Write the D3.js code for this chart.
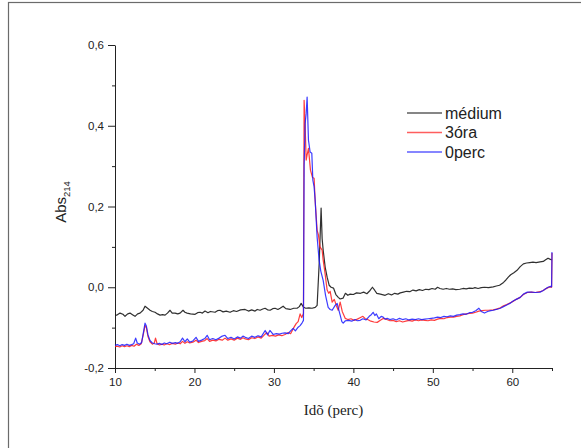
<!DOCTYPE html>
<html>
<head>
<meta charset="utf-8">
<script src="https://cdn.jsdelivr.net/npm/d3@7"></script>
<style>
  html, body { margin: 0; padding: 0; background: #fff; }
  svg { display: block; }
  .tick text { font-family: "Liberation Sans", Arial, sans-serif; fill: #222; }
</style>
</head>
<body>
<svg id="chart" width="581" height="448"></svg>
<script>
// Elution profiles: absorbance at 214 nm against elution time (min)
const seriesNames = ["médium", "3óra", "0perc"];
const seriesColors = ["#1a1a1a", "#ff1a1a", "#1a1aff"];

const xTicks = [10, 20, 30, 40, 50, 60];
const xMinorTicks = [15, 25, 35, 45, 55, 65];
const yTicks = [-0.2, 0, 0.2, 0.4, 0.6];
const yMinorTicks = [-0.1, 0.1, 0.3, 0.5];

const medium = [
  [10.0,-0.069],[10.25,-0.069],[10.63,-0.064],[11.0,-0.067],[11.26,-0.072],[11.6,-0.066],[11.89,-0.064],
  [12.2,-0.068],[12.52,-0.072],[12.85,-0.066],[13.15,-0.064],[13.53,-0.057],[13.78,-0.047],[14.1,-0.052],
  [14.41,-0.057],[14.7,-0.060],[15.04,-0.062],[15.35,-0.066],[15.67,-0.069],[16.0,-0.068],[16.3,-0.069],
  [16.6,-0.064],[16.93,-0.057],[17.2,-0.064],[17.56,-0.064],[17.9,-0.066],[18.19,-0.064],[18.56,-0.057],
  [18.8,-0.062],[19.07,-0.064],[19.5,-0.066],[20.08,-0.067],[20.4,-0.063],[20.71,-0.062],[21.0,-0.064],
  [21.33,-0.059],[21.7,-0.063],[22.0,-0.060],[22.59,-0.062],[22.9,-0.058],[23.22,-0.057],[23.6,-0.061],
  [24.0,-0.059],[24.48,-0.062],[24.9,-0.058],[25.3,-0.060],[25.8,-0.056],[26.37,-0.055],[26.8,-0.059],
  [27.2,-0.056],[27.63,-0.059],[27.9,-0.055],[28.26,-0.057],[28.6,-0.054],[28.89,-0.052],[29.2,-0.056],
  [29.52,-0.057],[29.85,-0.053],[30.15,-0.052],[30.5,-0.055],[30.78,-0.052],[31.16,-0.047],[31.5,-0.053],
  [32.04,-0.055],[32.5,-0.052],[32.92,-0.052],[33.2,-0.048],[33.43,-0.040],[33.7,-0.049],[34.0,-0.052],
  [34.4,-0.051],[34.8,-0.052],[35.2,-0.050],[35.44,-0.045],[35.7,0.060],[35.94,0.196],[36.07,0.120],
  [36.2,0.092],[36.45,0.050],[36.7,0.025],[36.95,0.005],[37.2,0.000],[37.5,-0.002],[37.8,-0.018],
  [38.1,-0.025],[38.34,-0.029],[38.7,-0.027],[39.0,-0.015],[39.3,-0.020],[39.6,-0.017],[40.0,-0.018],
  [40.4,-0.014],[40.9,-0.015],[41.3,-0.012],[41.7,-0.016],[42.1,-0.008],[42.4,0.000],[42.7,-0.008],
  [42.95,-0.015],[43.4,-0.017],[44.0,-0.020],[44.4,-0.016],[44.8,-0.019],[45.2,-0.015],[45.6,-0.017],
  [45.9,-0.014],[46.3,-0.012],[46.7,-0.010],[47.1,-0.011],[47.5,-0.007],[47.9,-0.009],[48.3,-0.006],
  [48.7,-0.008],[49.1,-0.005],[49.5,-0.006],[49.9,-0.003],[50.3,-0.005],[50.6,0.000],[50.9,-0.003],
  [51.3,-0.005],[51.7,-0.003],[52.1,-0.005],[52.5,-0.004],[52.9,-0.006],[53.4,-0.005],[53.8,-0.003],
  [54.2,-0.004],[54.6,-0.002],[55.0,-0.003],[55.3,-0.001],[55.7,-0.003],[56.1,-0.001],[56.5,0.000],
  [57.0,-0.001],[57.6,0.001],[58.0,0.003],[58.4,0.005],[58.9,0.012],[59.2,0.018],[59.5,0.025],
  [59.8,0.031],[60.2,0.036],[60.6,0.042],[61.0,0.051],[61.4,0.058],[61.8,0.060],[62.2,0.061],
  [62.6,0.062],[63.0,0.061],[63.5,0.063],[63.9,0.064],[64.2,0.068],[64.5,0.072],[64.8,0.069],[65.0,0.068]
];

const hours3 = [
  [10.0,-0.147],[10.3,-0.146],[10.6,-0.148],[10.9,-0.145],[11.2,-0.147],[11.5,-0.145],[11.8,-0.147],
  [12.1,-0.144],[12.4,-0.146],[12.7,-0.141],[13.0,-0.144],[13.3,-0.140],[13.55,-0.118],[13.78,-0.095],
  [13.95,-0.100],[14.15,-0.122],[14.4,-0.135],[14.7,-0.141],[14.95,-0.138],[15.1,-0.126],[15.3,-0.140],
  [15.6,-0.143],[15.9,-0.141],[16.2,-0.143],[16.5,-0.140],[16.9,-0.142],[17.2,-0.139],[17.6,-0.141],
  [17.9,-0.138],[18.2,-0.140],[18.5,-0.134],[18.8,-0.139],[19.1,-0.135],[19.4,-0.138],[19.8,-0.136],
  [20.2,-0.131],[20.5,-0.137],[20.9,-0.134],[21.3,-0.132],[21.6,-0.127],[21.9,-0.134],[22.3,-0.131],
  [22.7,-0.133],[23.1,-0.129],[23.5,-0.131],[23.85,-0.126],[24.2,-0.131],[24.6,-0.128],[25.0,-0.131],
  [25.4,-0.126],[25.8,-0.129],[26.1,-0.125],[26.4,-0.128],[26.8,-0.130],[27.2,-0.125],[27.6,-0.127],
  [28.0,-0.123],[28.4,-0.126],[28.8,-0.118],[29.1,-0.112],[29.4,-0.121],[29.8,-0.119],[30.2,-0.121],
  [30.6,-0.118],[31.0,-0.120],[31.4,-0.117],[31.8,-0.112],[32.1,-0.115],[32.5,-0.100],[32.8,-0.090],
  [33.05,-0.085],[33.3,-0.066],[33.5,-0.075],[33.72,-0.065],[33.80,0.463],[33.93,0.400],[34.06,0.315],
  [34.2,0.330],[34.35,0.344],[34.6,0.290],[34.85,0.272],[35.06,0.270],[35.19,0.215],[35.44,0.141],
  [35.6,0.130],[35.8,0.100],[36.07,0.092],[36.2,0.067],[36.4,0.040],[36.7,-0.007],[36.9,-0.015],
  [37.08,-0.010],[37.33,-0.037],[37.6,-0.030],[37.85,-0.045],[38.09,-0.057],[38.34,-0.037],[38.6,-0.060],
  [38.97,-0.077],[39.3,-0.080],[39.7,-0.078],[40.1,-0.082],[40.5,-0.079],[40.9,-0.075],[41.2,-0.072],
  [41.5,-0.078],[41.8,-0.080],[42.2,-0.084],[42.6,-0.086],[43.0,-0.087],[43.4,-0.082],[43.8,-0.077],
  [44.2,-0.080],[44.6,-0.083],[45.0,-0.082],[45.4,-0.085],[45.8,-0.083],[46.2,-0.086],[46.6,-0.084],
  [47.0,-0.082],[47.4,-0.084],[47.8,-0.081],[48.2,-0.083],[48.6,-0.081],[49.0,-0.082],[49.4,-0.083],
  [49.8,-0.081],[50.2,-0.082],[50.6,-0.079],[51.0,-0.077],[51.4,-0.078],[51.8,-0.075],[52.2,-0.074],
  [52.6,-0.074],[53.0,-0.072],[53.4,-0.071],[53.8,-0.068],[54.2,-0.066],[54.6,-0.065],[55.0,-0.064],
  [55.4,-0.062],[55.8,-0.059],[56.2,-0.058],[56.6,-0.057],[57.0,-0.057],[57.6,-0.056],[58.0,-0.054],
  [58.5,-0.051],[58.9,-0.046],[59.3,-0.043],[59.7,-0.039],[60.1,-0.035],[60.5,-0.030],[61.0,-0.025],
  [61.4,-0.018],[61.9,-0.013],[62.4,-0.012],[62.9,-0.013],[63.5,-0.011],[63.9,-0.008],[64.2,-0.004],
  [64.5,-0.001],[64.8,0.001],[64.95,0.000],[65.0,0.085]
];

const minutes0 = [
  [10.0,-0.144],[10.3,-0.142],[10.6,-0.145],[10.9,-0.142],[11.2,-0.144],[11.5,-0.141],[11.8,-0.144],
  [12.1,-0.142],[12.35,-0.140],[12.6,-0.126],[12.8,-0.138],[13.1,-0.141],[13.35,-0.137],[13.55,-0.115],
  [13.78,-0.089],[13.95,-0.096],[14.15,-0.118],[14.4,-0.132],[14.7,-0.138],[15.0,-0.140],[15.3,-0.141],
  [15.6,-0.139],[15.9,-0.142],[16.2,-0.138],[16.5,-0.140],[16.9,-0.136],[17.2,-0.139],[17.6,-0.137],
  [17.9,-0.139],[18.2,-0.135],[18.5,-0.126],[18.8,-0.135],[19.1,-0.128],[19.4,-0.136],[19.8,-0.133],
  [20.2,-0.124],[20.5,-0.134],[20.9,-0.131],[21.3,-0.127],[21.6,-0.119],[21.9,-0.130],[22.3,-0.127],
  [22.7,-0.130],[23.1,-0.126],[23.5,-0.121],[23.85,-0.119],[24.2,-0.127],[24.6,-0.124],[25.0,-0.128],
  [25.4,-0.123],[25.8,-0.126],[26.1,-0.121],[26.4,-0.124],[26.8,-0.127],[27.2,-0.121],[27.6,-0.124],
  [28.0,-0.120],[28.4,-0.123],[28.9,-0.107],[29.2,-0.118],[29.5,-0.107],[29.9,-0.117],[30.3,-0.115],
  [30.7,-0.116],[31.03,-0.114],[31.4,-0.113],[31.8,-0.115],[32.1,-0.108],[32.42,-0.102],[32.7,-0.108],
  [33.05,-0.099],[33.3,-0.095],[33.55,-0.088],[33.72,-0.082],[33.80,0.300],[33.93,0.406],[34.06,0.430],
  [34.18,0.471],[34.35,0.364],[34.56,0.335],[34.77,0.332],[34.9,0.265],[35.05,0.250],[35.19,0.216],
  [35.44,0.124],[35.69,0.067],[35.9,0.040],[36.2,0.017],[36.5,-0.020],[36.83,-0.050],[37.08,-0.055],
  [37.33,-0.057],[37.71,-0.045],[37.96,-0.040],[38.15,-0.055],[38.34,-0.069],[38.55,-0.085],[38.72,-0.089],
  [39.0,-0.083],[39.4,-0.082],[39.8,-0.084],[40.2,-0.080],[40.5,-0.083],[40.86,-0.082],[41.2,-0.078],
  [41.6,-0.081],[42.0,-0.072],[42.25,-0.068],[42.49,-0.062],[42.7,-0.070],[42.9,-0.066],[43.2,-0.078],
  [43.5,-0.072],[43.75,-0.074],[44.0,-0.079],[44.26,-0.077],[44.6,-0.080],[45.0,-0.078],[45.4,-0.081],
  [45.8,-0.077],[46.2,-0.080],[46.6,-0.078],[47.0,-0.081],[47.4,-0.079],[47.8,-0.080],[48.2,-0.078],
  [48.6,-0.080],[49.0,-0.079],[49.4,-0.078],[49.8,-0.077],[50.2,-0.076],[50.6,-0.074],[51.0,-0.075],
  [51.4,-0.072],[51.8,-0.073],[52.2,-0.071],[52.6,-0.072],[53.0,-0.069],[53.4,-0.068],[53.8,-0.066],
  [54.2,-0.067],[54.6,-0.063],[55.0,-0.062],[55.4,-0.058],[55.8,-0.052],[56.1,-0.060],[56.5,-0.064],
  [56.9,-0.060],[57.3,-0.058],[57.6,-0.057],[58.0,-0.055],[58.5,-0.052],[58.9,-0.048],[59.3,-0.044],
  [59.7,-0.040],[60.1,-0.034],[60.5,-0.030],[61.0,-0.025],[61.4,-0.017],[61.9,-0.012],[62.4,-0.012],
  [62.9,-0.013],[63.5,-0.012],[63.9,-0.008],[64.2,-0.004],[64.5,0.000],[64.8,0.002],[64.95,0.001],[65.0,0.087]
];

const allSeries = [medium, hours3, minutes0];

const svg = d3.select("#chart");

// page frame
svg.append("rect")
  .attr("x", 8.5).attr("y", 2.5)
  .attr("width", 700).attr("height", 700)
  .attr("fill", "none").attr("stroke", "#6b6b6b").attr("stroke-width", 1.2);

const x = d3.scaleLinear().domain([10, 65]).range([115, 552]);
const y = d3.scaleLinear().domain([-0.2, 0.6]).range([368, 45]);

const fmt = d => d3.format(".1f")(d).replace("−", "-").replace(".", ",");

// minor ticks
svg.append("g")
  .attr("transform", `translate(0,${y(-0.2)})`)
  .call(d3.axisBottom(x).tickValues(xMinorTicks).tickSize(3).tickFormat(""))
  .call(g => g.select(".domain").remove());
svg.append("g")
  .attr("transform", `translate(${x(10)},0)`)
  .call(d3.axisLeft(y).tickValues(yMinorTicks).tickSize(3).tickFormat(""))
  .call(g => g.select(".domain").remove());

// main axes
const xAxis = svg.append("g")
  .attr("transform", `translate(0,${y(-0.2)})`)
  .call(d3.axisBottom(x).tickValues(xTicks).tickSize(5).tickSizeOuter(0).tickPadding(5).tickFormat(d3.format("d")));
xAxis.selectAll("text").style("font-size", "11.5px");

const yAxis = svg.append("g")
  .attr("transform", `translate(${x(10)},0)`)
  .call(d3.axisLeft(y).tickValues(yTicks).tickSize(7).tickSizeOuter(0).tickPadding(4).tickFormat(fmt));
yAxis.selectAll("text").style("font-size", "11.5px");

svg.selectAll(".domain, .tick line").attr("stroke", "#222");

// curves
const line = d3.line().x(d => x(d[0])).y(d => y(d[1]));
svg.append("g").selectAll("path")
  .data(allSeries)
  .join("path")
  .attr("d", line)
  .attr("fill", "none")
  .attr("stroke", (d, i) => seriesColors[i])
  .attr("stroke-width", 1.2)
  .attr("stroke-opacity", (d, i) => i === 0 ? 0.9 : 0.85)
  .attr("stroke-linejoin", "round");

// legend
const legend = svg.append("g").attr("transform", "translate(407,113)");
seriesNames.forEach((name, i) => {
  const row = legend.append("g").attr("transform", `translate(0,${i * 19.5})`);
  row.append("line")
    .attr("x1", 0).attr("x2", 35).attr("y1", 0).attr("y2", 0)
    .attr("stroke", seriesColors[i]).attr("stroke-width", 1.3).attr("stroke-opacity", 0.7);
  row.append("text")
    .attr("x", 38).attr("y", 0).attr("dy", "0.35em")
    .style("font-family", "'Liberation Sans', Arial, sans-serif")
    .style("font-size", "16px").style("fill", "#222")
    .text(name);
});

// axis titles
svg.append("text")
  .attr("x", x(37.5)).attr("y", 415)
  .attr("text-anchor", "middle")
  .style("font-family", "'Liberation Serif', 'Times New Roman', serif")
  .style("font-size", "15px").style("fill", "#222")
  .text("Idõ (perc)");

const yTitle = svg.append("text")
  .attr("transform", "translate(66,202) rotate(-90)")
  .attr("text-anchor", "middle")
  .style("font-family", "'Liberation Sans', Arial, sans-serif")
  .style("font-size", "15px").style("fill", "#222");
yTitle.append("tspan").text("Abs");
yTitle.append("tspan").attr("dy", "4").style("font-size", "9.5px").text("214");
</script>
</body>
</html>
